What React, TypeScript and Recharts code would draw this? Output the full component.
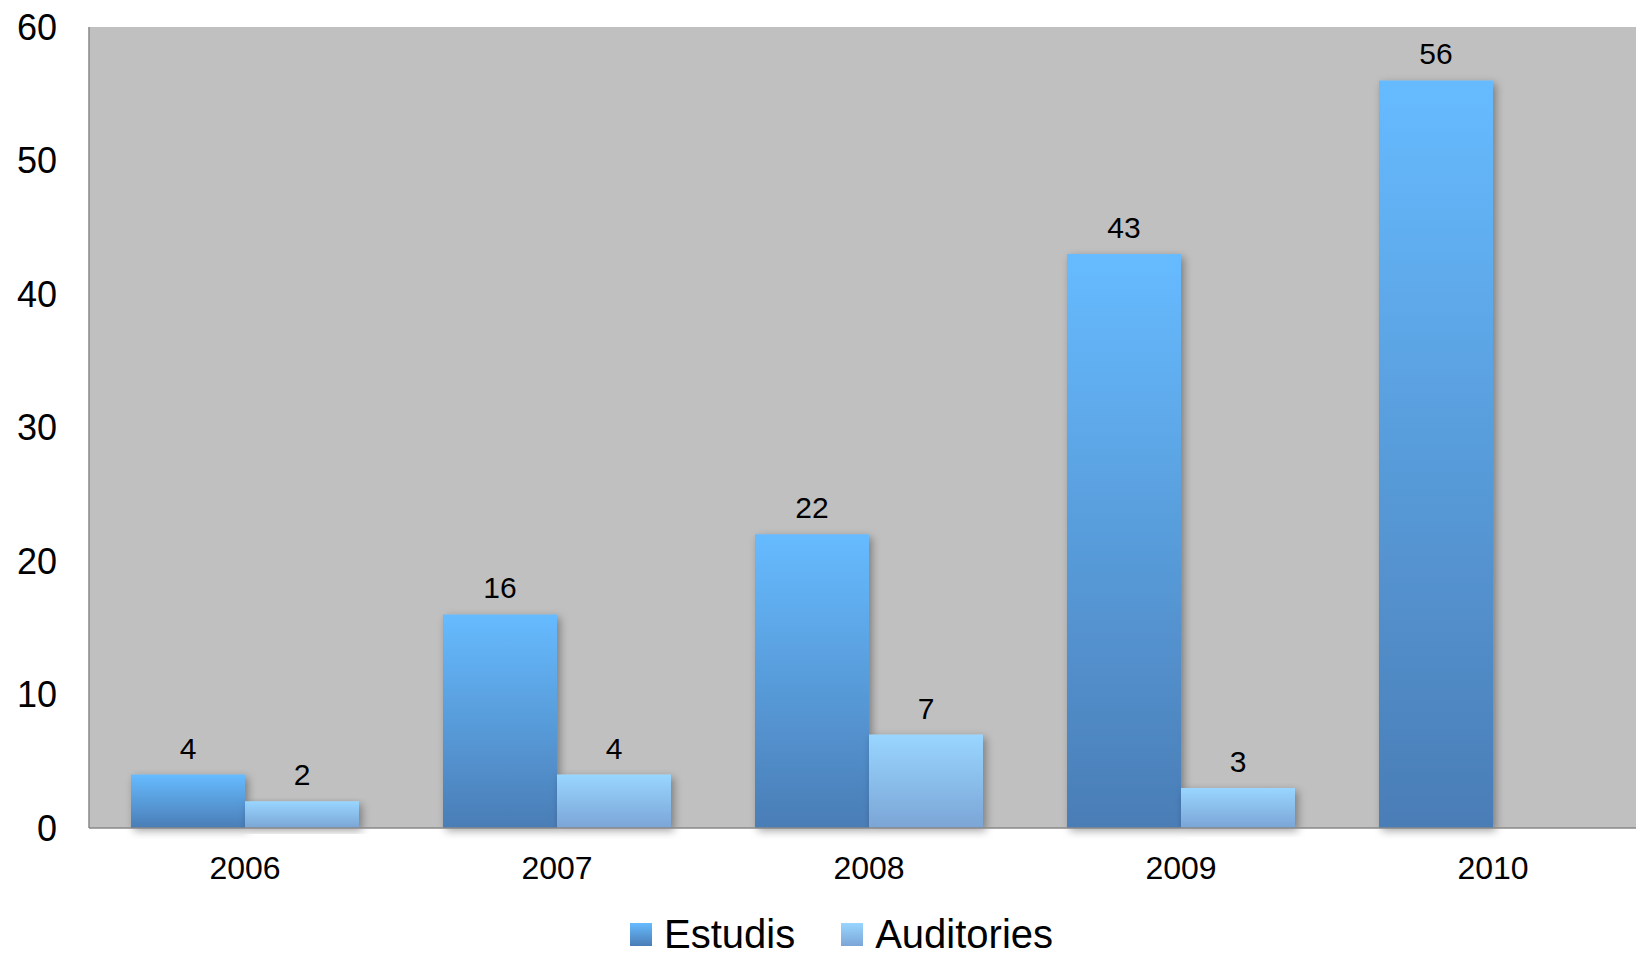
import React from 'react';
import {
  BarChart,
  Bar,
  XAxis,
  YAxis,
  CartesianGrid,
  LabelList,
} from 'recharts';

const years = ['2006', '2007', '2008', '2009', '2010'];
const estudis = [4, 16, 22, 43, 56];
const auditories: (number | null)[] = [2, 4, 7, 3, null];
const yTicks = [0, 10, 20, 30, 40, 50, 60];

const series = [
  { key: 'estudis', name: 'Estudis', top: '#66BBFF', bottom: '#4A7DB6' },
  { key: 'auditories', name: 'Auditories', top: '#99D6FF', bottom: '#7BA5D6' },
];

const data = years.map((year, i) => ({
  year,
  estudis: estudis[i],
  auditories: auditories[i],
}));

const font = '"Liberation Sans", Arial, sans-serif';

const ChartLegend = () => (
  <div
    style={{
      position: 'absolute',
      top: 910,
      left: 630,
      display: 'flex',
      alignItems: 'center',
      fontFamily: font,
      fontSize: 40,
      color: '#000',
    }}
  >
    {series.map((s, i) => (
      <div key={s.key} style={{ display: 'flex', alignItems: 'center', marginLeft: i ? 46 : 0 }}>
        <span
          style={{
            width: 22,
            height: 23,
            marginRight: 12,
            background: `linear-gradient(${s.top}, ${s.bottom})`,
            display: 'inline-block',
          }}
        />
        <span style={{ lineHeight: '48px' }}>{s.name}</span>
      </div>
    ))}
  </div>
);

export default function App() {
  return (
    <div
      style={{
        position: 'absolute',
        top: 0,
        left: 0,
        width: 1636,
        height: 956,
        overflow: 'hidden',
        background: '#fff',
      }}
    >
      <BarChart
        width={1649}
        height={956}
        data={data}
        margin={{ top: 27, right: 0, left: 0, bottom: 68 }}
        barCategoryGap={42}
        barGap={0}
        style={{ fontFamily: font }}
      >
        <defs>
          {series.map((s) => (
            <linearGradient key={s.key} id={`grad-${s.key}`} x1="0" y1="0" x2="0" y2="1">
              <stop offset="0%" stopColor={s.top} />
              <stop offset="100%" stopColor={s.bottom} />
            </linearGradient>
          ))}
          <filter id="barShadow" x="-10%" y="-10%" width="130%" height="130%">
            <feDropShadow dx="3" dy="3" stdDeviation="4" floodColor="#000" floodOpacity="0.35" />
          </filter>
        </defs>
        <CartesianGrid fill="#C0C0C0" horizontal={false} vertical={false} />
        <XAxis
          dataKey="year"
          height={60}
          tickLine={false}
          tickSize={0}
          tickMargin={28}
          axisLine={{ stroke: '#888888', strokeWidth: 1.5 }}
          tick={{ fill: '#000', fontSize: 32, fontFamily: font }}
        />
        <YAxis
          width={89}
          domain={[0, 60]}
          ticks={yTicks}
          interval={0}
          tickLine={false}
          tickSize={0}
          tickMargin={32}
          axisLine={{ stroke: '#888888', strokeWidth: 1.5 }}
          tick={{ fill: '#000', fontSize: 36, fontFamily: font }}
        />
        {series.map((s) => (
          <Bar
            key={s.key}
            dataKey={s.key}
            name={s.name}
            fill={`url(#grad-${s.key})`}
            filter="url(#barShadow)"
            isAnimationActive={false}
          >
            <LabelList
              dataKey={s.key}
              position="top"
              offset={16}
              formatter={(v: any) => (v == null ? '' : v)}
              style={{ fill: '#000', fontSize: 30, fontFamily: font }}
            />
          </Bar>
        ))}
      </BarChart>
      <ChartLegend />
    </div>
  );
}
